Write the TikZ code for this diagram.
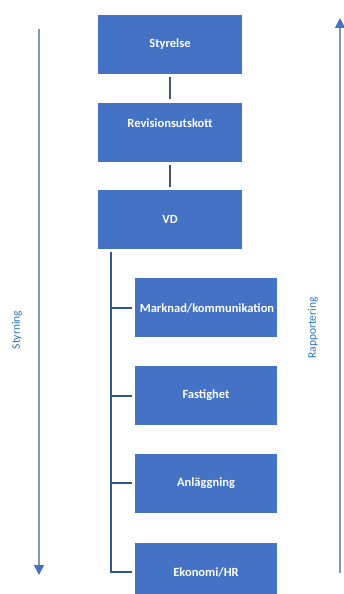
\documentclass[tikz,border=0pt]{standalone}
\usepackage{fontspec}
\setmainfont{Carlito}
\usetikzlibrary{arrows.meta,calc}
\definecolor{boxblue}{HTML}{4472C4}
\definecolor{linkgray}{HTML}{44546A}
\definecolor{branchblue}{HTML}{2F5597}
\definecolor{axisgray}{HTML}{8497B0}
\definecolor{labelblue}{HTML}{2E75B6}
\begin{document}
\begin{tikzpicture}[x=1pt,y=-1pt,
  box/.style={draw=none,fill=boxblue,minimum width=144pt,minimum height=59pt,inner sep=0pt},
  subbox/.style={box,minimum width=142pt},
  boxtext/.style={text=white,font=\fontsize{12.5}{14}\selectfont\bfseries,inner sep=0pt},
  link/.style={draw=linkgray,line width=2.4pt,shorten <=3pt,shorten >=3pt},
  branch/.style={draw=branchblue,line width=2pt},
  axis/.style={draw=axisgray,line width=1.6pt,-{Triangle[width=10pt,length=10pt,fill=boxblue,color=boxblue]}},
  side/.style={text=labelblue,font=\fontsize{11.5}{13}\selectfont,rotate=90,inner sep=0pt}]
\useasboundingbox (0,0) rectangle (343,594);
\fill[white] (0,0) rectangle (343,594);
% main chain
\node[box] (sty) at (170,44.5) {};
\node[boxtext] (styt) at (sty) {Styrelse};
\node[box] (rev) at (170,132) {};
\node[boxtext] (revt) at (170,123) {Revisionsutskott};
\node[box] (vd) at (170,219.5) {};
\node[boxtext] (vdt) at (vd) {VD};
\draw[link] (sty.south) -- (rev.north);
\draw[link] (rev.south) -- (vd.north);
% sub units
\node[subbox] (mar) at (206,307.5) {};
\node[boxtext] (mart) at (207,308) {Marknad/kommunikation};
\node[subbox] (fas) at (206,395.5) {};
\node[boxtext] (fast) at (fas) {Fastighet};
\node[subbox] (anl) at (206,483) {};
\node[boxtext] (anlt) at (anl) {Anläggning};
\node[subbox] (eko) at (206,572) {};
\node[boxtext] (ekot) at (eko) {Ekonomi/HR};
% branch
\coordinate (trunk) at (111,252);
\draw[branch] (trunk) |- ([xshift=-3pt]eko.west);
\draw[branch] (trunk |- mar.west) -- ([xshift=-3pt]mar.west);
\draw[branch] (trunk |- fas.west) -- ([xshift=-3pt]fas.west);
\draw[branch] (trunk |- anl.west) -- ([xshift=-3pt]anl.west);
% side axes
\coordinate (ltop) at (39,29);
\coordinate (lbot) at (39,575);
\draw[axis] (ltop) -- (lbot);
\coordinate (rbot) at (340,573);
\coordinate (rtop) at (340,18);
\draw[axis] (rbot) -- (rtop);
\node[side] (styr) at (17,330) {Styrning};
\node[side] (rapp) at (313,328) {Rapportering};
\end{tikzpicture}
\end{document}
